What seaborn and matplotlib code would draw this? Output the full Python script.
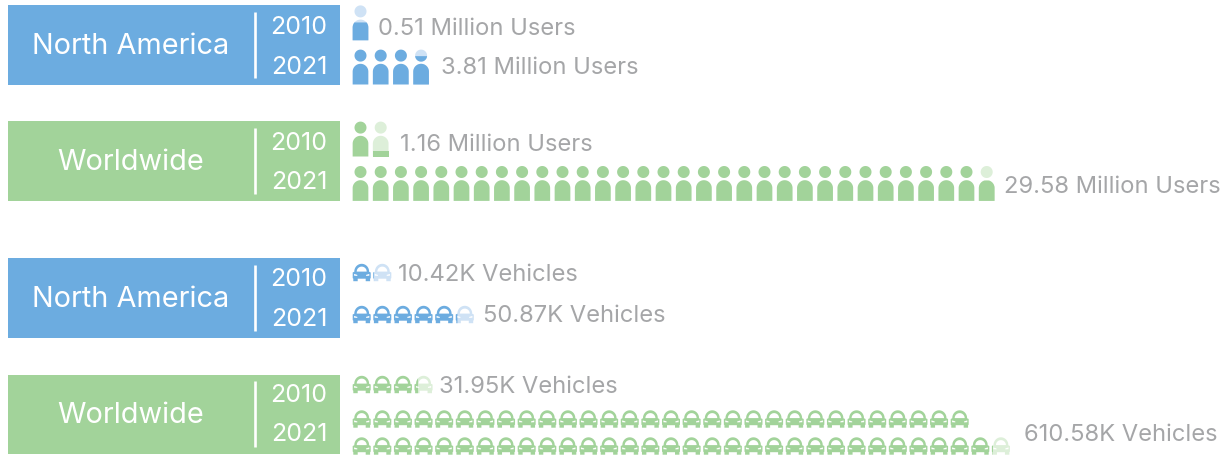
import numpy as np
import matplotlib
matplotlib.use("Agg")
import matplotlib.pyplot as plt
import seaborn as sns
from matplotlib.path import Path
from matplotlib.markers import MarkerStyle
from matplotlib.transforms import Bbox

# ---------- data ----------
regions = ["North America", "Worldwide", "North America", "Worldwide"]
years = ["2010", "2021"]
user_labels = ["0.51 Million Users", "3.81 Million Users", "1.16 Million Users", "29.58 Million Users"]
user_icons = [0.51, 3.81, 1.16, 31.58]
vehicle_labels = ["10.42K Vehicles", "50.87K Vehicles", "31.95K Vehicles", "610.58K Vehicles"]
vehicle_icons = [1.04, 5.09, 3.195, 61.06]

# ---------- style / layout ----------
BLUE, GREEN = "#6CACE0", "#A2D39A"
LBLUE, LGREEN = "#CFE2F5", "#DDEFD9"
GREY = "#A5A6A8"
banner_tops = [6, 122, 259, 375.5]
BANNER_H = 79.5
user_y = [23.8, 68.0, 140.0, 184.4]
user_text = [(378, 29), (441, 68), (400, 145), (1004, 187)]
car_y = [[273.5], [315.5], [385.5], [420, 447]]
car_text = [(398, 275), (483, 316), (439, 387), (1024, 435)]
row_caps = [99, 99, 99, 30]
year_y = [(28, 67), (144, 183), (280, 320), (396, 435)]
X0_USER, DX_USER = 360.5, 20.2
X0_CAR, DX_CAR = 361.7, 20.62


def poly_path(polys, norm):
    """Compound path (y up) from polygons, plus an invisible anchor that fixes marker scale."""
    verts, codes = [], []
    for p in polys + [np.array([[1, 1], [1, 1], [1, 1]]) * norm]:
        p = np.asarray(p, float)
        verts += list(p / norm) + [p[0] / norm]
        codes += [Path.MOVETO] + [Path.LINETO] * (len(p) - 1) + [Path.CLOSEPOLY]
    return Path(np.array(verts), codes)


def oriented(p, ccw=True):
    p = np.asarray(p, float)
    a = 0.5 * np.sum(p[:, 0] * np.roll(p[:, 1], -1) - np.roll(p[:, 0], -1) * p[:, 1])
    return p if (a > 0) == ccw else p[::-1]


def person_polys():
    t = np.linspace(0, 2 * np.pi, 60, endpoint=False)
    head = np.c_[6.0 * np.cos(t), 11.4 + 6.0 * np.sin(t)]
    a = np.linspace(np.pi, 0, 40)
    dome = np.c_[7.85 * np.cos(a), -4.65 + 7.85 * np.sin(a)]
    body = np.vstack([[-7.85, -17.5], dome, [7.85, -17.5]])
    return [oriented(head), oriented(body)]


def car_polys():
    a = np.linspace(np.pi, 0, 30)
    roof = np.c_[7.4 * np.cos(a), 1.0 + 7.7 * np.sin(a)]
    outer = np.vstack([
        [[-9, -5.6], [-9, 0.0], [-7.4, 0.8]], roof, [[7.4, 0.8], [9, 0.0], [9, -5.6], [8.4, -6.2],
         [8.4, -8.7], [4.0, -8.7], [4.0, -6.2], [-4.0, -6.2], [-4.0, -8.7], [-8.4, -8.7], [-8.4, -6.2]]])
    b = np.linspace(np.pi, 0, 20)
    win = np.c_[5.0 * np.cos(b), 0.9 + 5.0 * np.sin(b)]
    lamp_l = [[-7.6, -1.4], [-4.4, -2.4], [-4.4, -3.4], [-7.6, -3.2]]
    lamp_r = [[7.6, -1.4], [7.6, -3.2], [4.4, -3.4], [4.4, -2.4]]
    return [oriented(outer)] + [oriented(h, False) for h in (win, lamp_l, lamp_r)]


PERSON, PERSON_N, PERSON_S = person_polys(), 17.5, (35 * 0.72) ** 2
CAR, CAR_N, CAR_S = car_polys(), 9.0, (18 * 0.72) ** 2
person_full = poly_path(PERSON, PERSON_N)
car_full = poly_path(CAR, CAR_N)


def clipped(polys, norm, box):
    parts = []
    for p in polys:
        c = poly_path([p], norm).clip_to_bbox(Bbox(np.array(box) / norm), inside=True)
        for q in c.to_polygons(closed_only=False):
            if len(q) >= 3:
                parts.append(np.asarray(q) * norm)
    return poly_path(parts, norm)


sns.set_theme(style="white")
plt.rcParams["font.family"] = ["Inter", "DejaVu Sans"]
fig, ax = plt.subplots(figsize=(12.3, 4.56), dpi=100)
fig.subplots_adjust(0, 0, 1, 1)
ax.set_xlim(0, 1230)
ax.set_ylim(456, 0)
ax.axis("off")


def stamp(xs, ys, path, size, color):
    if len(xs):
        sns.scatterplot(x=list(xs), y=list(ys), marker=MarkerStyle(path), s=size, color=color,
                        linewidth=0, edgecolor="none", legend=False, ax=ax, zorder=3)


def car_slot(k, cap, n_rows):
    row = min(k // cap, n_rows - 1)
    return k - row * cap, row


def palette(i):
    return (BLUE, LBLUE) if i < 2 else (GREEN, LGREEN)


# banners
for i, (region, top) in enumerate(zip(regions, banner_tops)):
    col = BLUE if i % 2 == 0 else GREEN
    ax.barh(top + BANNER_H / 2, 332, height=BANNER_H, left=8, color=col, linewidth=0)
    ax.plot([255, 255], [top + 6.5, top + 72.5], color="white", lw=1.9, solid_capstyle="butt")
    ax.text(131, top + BANNER_H / 2 + 0.5, region, color="white", ha="center", va="center", fontsize=20.8)
    for yr, yy in zip(years, year_y[i]):
        ax.text(299, yy, yr, color="white", ha="center", va="center", fontsize=18)

# person icons: one icon per unit, filled from the feet upward
for i, val in enumerate(user_icons):
    col, light = palette(i)
    n = int(val)
    frac = val - n
    y = user_y[i]
    stamp([X0_USER + DX_USER * k for k in range(n)], [y] * n, person_full, PERSON_S, col)
    xp = X0_USER + DX_USER * n
    stamp([xp], [y], person_full, PERSON_S, light)
    level = -17.5 + 35 * frac
    stamp([xp], [y], clipped(PERSON, PERSON_N, [[-10, -18], [10, level]]), PERSON_S, col)
    ax.text(user_text[i][0], user_text[i][1], user_labels[i], color=GREY, ha="left", va="center", fontsize=17.1)

# car icons: one icon per unit, filled from left to right
for i, val in enumerate(vehicle_icons):
    col, light = palette(i)
    n = int(val)
    frac = val - n
    cap, rows = row_caps[i], len(car_y[i])
    slots = [car_slot(k, cap, rows) for k in range(n)]
    xs = [X0_CAR + DX_CAR * c for c, r in slots]
    ys = [car_y[i][r] for c, r in slots]
    stamp(xs, ys, car_full, CAR_S, col)
    c, r = car_slot(n, cap, rows)
    xp, yp = X0_CAR + DX_CAR * c, car_y[i][r]
    stamp([xp], [yp], car_full, CAR_S, light)
    edge = -9 + 18 * frac
    stamp([xp], [yp], clipped(CAR, CAR_N, [[-10, -10], [edge, 10]]), CAR_S, col)
    ax.text(car_text[i][0], car_text[i][1], vehicle_labels[i], color=GREY, ha="left", va="center", fontsize=17.1)

fig.savefig("out.png", dpi=100)
